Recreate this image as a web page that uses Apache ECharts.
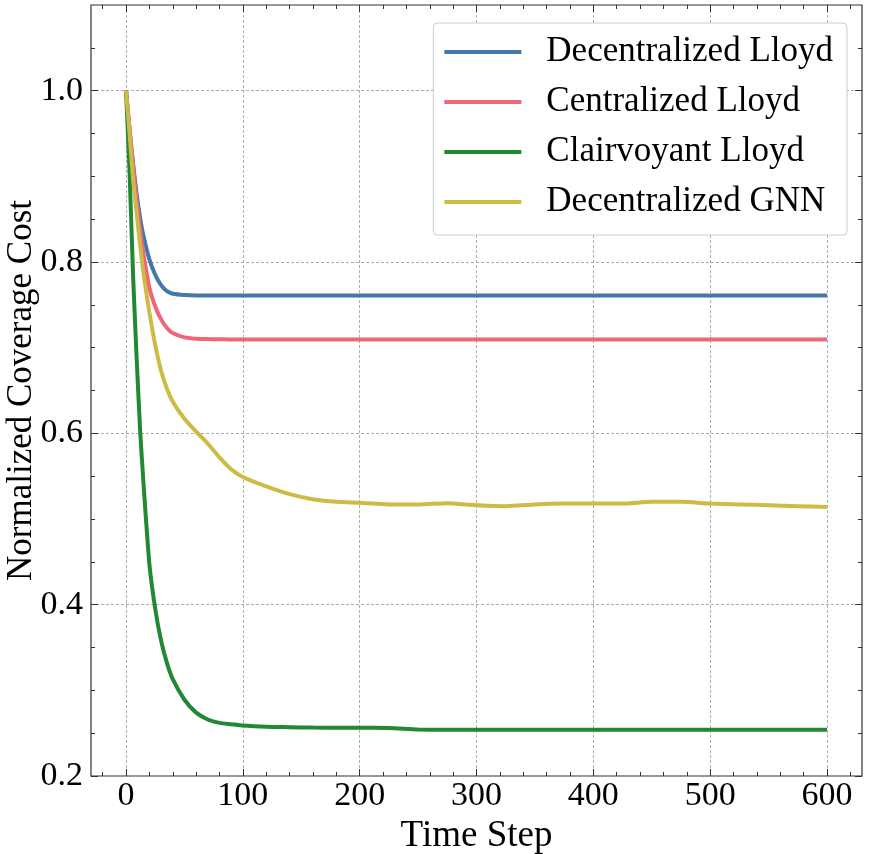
<!DOCTYPE html>
<html>
<head>
<meta charset="utf-8">
<script src="https://cdn.jsdelivr.net/npm/echarts@6/dist/echarts.min.js"></script>
<style>
  html, body { margin: 0; padding: 0; background: #fff; }
  #main { width: 870px; height: 854px; }
</style>
</head>
<body>
<div id="main"></div>
<script>
var timeSteps = [0, 3, 6, 9, 12, 15, 20, 25, 30, 35, 40, 50, 60, 70, 80, 90, 100,
  120, 140, 160, 180, 200, 225, 250, 275, 300, 325, 350, 375, 400, 425, 450, 475,
  500, 525, 550, 575, 600];

var decLloyd = [1.0, 0.955, 0.915, 0.88, 0.852, 0.83, 0.803, 0.785, 0.773, 0.766, 0.763,
  0.7615, 0.761, 0.761, 0.761, 0.761, 0.761, 0.761, 0.761, 0.761, 0.761, 0.761,
  0.761, 0.761, 0.761, 0.761, 0.761, 0.761, 0.761, 0.761, 0.761, 0.761, 0.761,
  0.761, 0.761, 0.761, 0.761, 0.761];

var cenLloyd = [1.0, 0.955, 0.912, 0.872, 0.838, 0.808, 0.77, 0.748, 0.733, 0.723, 0.717,
  0.712, 0.7105, 0.710, 0.7098, 0.7095, 0.7095, 0.7095, 0.7095, 0.7095, 0.7095, 0.7095,
  0.7095, 0.7095, 0.7095, 0.7095, 0.7095, 0.7095, 0.7095, 0.7095, 0.7095, 0.7095, 0.7095,
  0.7095, 0.7095, 0.7095, 0.7095, 0.7095];

var clairLloyd = [1.0, 0.905, 0.785, 0.69, 0.605, 0.54, 0.447, 0.395, 0.358, 0.332, 0.313,
  0.289, 0.274, 0.266, 0.262, 0.2605, 0.259, 0.2575, 0.257, 0.2565, 0.2563, 0.2562,
  0.2561, 0.2542, 0.2541, 0.2541, 0.2541, 0.2541, 0.2541, 0.2541, 0.2541, 0.2541, 0.2541,
  0.2541, 0.2541, 0.2541, 0.2541, 0.2541];

var decGNN = [1.0, 0.95, 0.897, 0.858, 0.82, 0.786, 0.741, 0.703, 0.673, 0.652, 0.637,
  0.617, 0.602, 0.588, 0.572, 0.558, 0.549, 0.538, 0.529, 0.523, 0.520, 0.519,
  0.517, 0.517, 0.5185, 0.516, 0.515, 0.517, 0.518, 0.518, 0.518, 0.520, 0.520,
  0.518, 0.517, 0.516, 0.515, 0.514];

var seriesNames = ["Decentralized Lloyd", "Centralized Lloyd", "Clairvoyant Lloyd", "Decentralized GNN"];
var seriesColors = ["#4477AA", "#EE6677", "#228833", "#CCBB44"];

var xMajor = [0, 100, 200, 300, 400, 500, 600];
var yMajor = [0.2, 0.4, 0.6, 0.8, 1.0];

// minor ticks: every 20 steps on x, every 0.05 on y
var xMinor = [];
for (var v = -20; v <= 620; v += 20) {
  if (v % 100 !== 0) xMinor.push(v);
}
var yMinor = [];
for (var k = 5; k <= 21; k++) {
  if (k % 4 !== 0) yMinor.push(+(k * 0.05).toFixed(2));
}

var FONT = "Liberation Serif";
var frameColor = "#333";

function tickAxis(pos, values, len, isX) {
  return {
    type: "value",
    position: pos,
    min: isX ? -30 : 0.2,
    max: isX ? 630 : 1.1,
    axisLine: { show: false, onZero: false },
    axisLabel: { show: false },
    splitLine: { show: false },
    axisTick: {
      show: true,
      inside: true,
      length: len,
      customValues: values,
      lineStyle: { color: frameColor, width: 1 },
    },
  };
}

var chart = echarts.init(document.getElementById("main"), null, { renderer: "canvas" });

var series = [decLloyd, cenLloyd, clairLloyd, decGNN].map(function (vals, i) {
  return {
    name: seriesNames[i],
    type: "line",
    xAxisIndex: 0,
    yAxisIndex: 0,
    data: timeSteps.map(function (t, j) { return [t, vals[j]]; }),
    showSymbol: false,
    symbol: "none",
    smooth: 0.2,
    lineStyle: { color: seriesColors[i], width: 4 },
    itemStyle: { color: seriesColors[i] },
    z: 2 + i,
  };
});

var option = {
  backgroundColor: "#fff",
  animation: false,
  grid: {
    left: 91,
    right: 8,
    top: 5,
    bottom: 78,
    containLabel: false,
    outerBoundsMode: "none",
    show: true,
    borderColor: frameColor,
    borderWidth: 1.2,
  },
  legend: {
    orient: "vertical",
    right: 23,
    top: 23,
    icon: "rect",
    itemWidth: 77,
    itemHeight: 4,
    itemGap: 8,
    padding: [8, 14, 12, 11],
    backgroundColor: "#fff",
    borderColor: "#ccc",
    borderWidth: 1,
    borderRadius: 4,
    textStyle: {
      fontFamily: FONT,
      fontSize: 35,
      color: "#000",
      lineHeight: 42,
      padding: [0, 0, 0, 20],
    },
    data: seriesNames,
  },
  xAxis: [
    {
      type: "value",
      position: "bottom",
      min: -30,
      max: 630,
      name: "Time Step",
      nameLocation: "middle",
      nameGap: 25,
      nameTextStyle: { fontFamily: FONT, fontSize: 37, color: "#000" },
      axisLine: { show: false, onZero: false },
      axisTick: {
        show: true,
        inside: true,
        length: 7,
        customValues: xMajor,
        lineStyle: { color: frameColor, width: 1 },
      },
      axisLabel: {
        customValues: xMajor,
        fontFamily: FONT,
        fontSize: 34,
        color: "#000",
        margin: 3,
      },
      splitLine: {
        show: true,
        lineStyle: { color: "#999", type: [3, 2], width: 0.8 },
      },
    },
    tickAxis("bottom", xMinor, 4, true),
    tickAxis("top", xMajor, 7, true),
    tickAxis("top", xMinor, 4, true),
  ],
  yAxis: [
    {
      type: "value",
      position: "left",
      min: 0.2,
      max: 1.1,
      name: "Normalized Coverage Cost",
      nameLocation: "middle",
      nameGap: 52,
      nameMoveOverlap: false,
      nameTextStyle: { fontFamily: FONT, fontSize: 35, color: "#000" },
      axisLine: { show: false, onZero: false },
      axisTick: {
        show: true,
        inside: true,
        length: 7,
        customValues: yMajor,
        lineStyle: { color: frameColor, width: 1 },
      },
      axisLabel: {
        customValues: yMajor,
        fontFamily: FONT,
        fontSize: 34,
        color: "#000",
        margin: 8,
        formatter: function (val) { return val.toFixed(1); },
      },
      splitLine: {
        show: true,
        lineStyle: { color: "#999", type: [3, 2], width: 0.8 },
      },
    },
    tickAxis("left", yMinor, 4, false),
    tickAxis("right", yMajor, 7, false),
    tickAxis("right", yMinor, 4, false),
  ],
  series: series,
};

chart.setOption(option);
</script>
</body>
</html>
